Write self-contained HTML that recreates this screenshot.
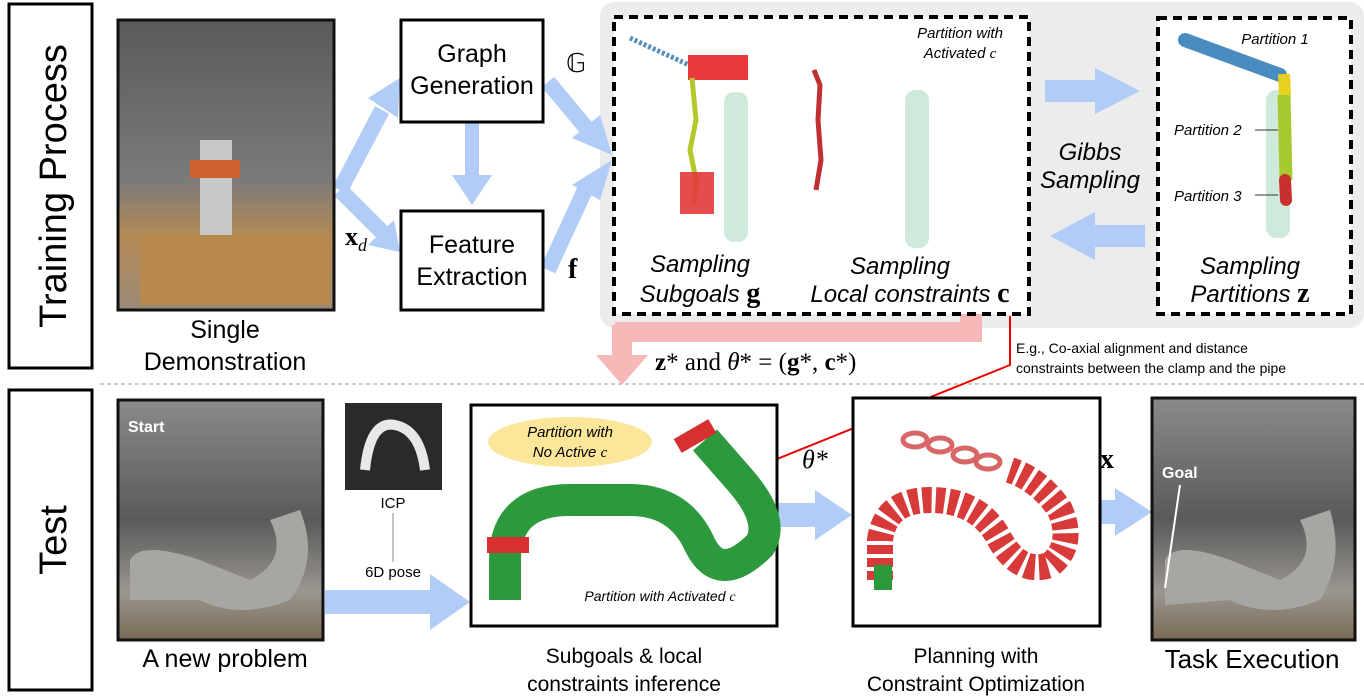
<!DOCTYPE html>
<html><head><meta charset="utf-8"><style>
body{margin:0;background:#fff;}
svg{display:block;font-family:"Liberation Sans",sans-serif;}
.ser{font-family:"Liberation Serif",serif;}
</style></head><body>
<svg width="1364" height="698" viewBox="0 0 1364 698" xmlns="http://www.w3.org/2000/svg">
<defs>
<linearGradient id="photo" x1="0" y1="0" x2="0" y2="1"><stop offset="0" stop-color="#5a5a5a"/><stop offset="0.55" stop-color="#7a7a7a"/><stop offset="0.75" stop-color="#b58a55"/><stop offset="1" stop-color="#9a8a78"/></linearGradient>
<linearGradient id="photo2" x1="0" y1="0" x2="0" y2="1"><stop offset="0" stop-color="#8a8a8a"/><stop offset="0.5" stop-color="#5a5a5a"/><stop offset="0.8" stop-color="#9a9690"/><stop offset="1" stop-color="#7a6a55"/></linearGradient>
</defs>
<rect x="9" y="4" width="83" height="364" fill="#fff" stroke="#000" stroke-width="3"/>
<text transform="translate(66,186) rotate(-90)" font-size="38" text-anchor="middle">Training Process</text>
<rect x="9" y="390" width="83" height="300" fill="#fff" stroke="#000" stroke-width="3"/>
<text transform="translate(66,540) rotate(-90)" font-size="38" text-anchor="middle">Test</text>
<line x1="100" y1="384" x2="1364" y2="384" stroke="#999" stroke-dasharray="4,3"/>
<rect x="600" y="2" width="764" height="326" rx="14" fill="#ececec"/>
<g fill="none" stroke="#b1ccf6" stroke-width="16">
<polyline points="340,190 382,110"/><polyline points="340,190 382,232"/>
<line x1="548" y1="82" x2="588" y2="130"/><line x1="548" y1="270" x2="585" y2="190"/>
</g>
<g fill="#b1ccf6" stroke="none">
<polygon points="368,98 400,78 398,118"/>
<polygon points="368,245 400,252 394,220"/>
<rect x="465" y="122" width="14" height="55"/><polygon points="452,175 492,175 472,205"/>
<polygon points="572,138 612,155 600,115"/>
<polygon points="572,185 612,160 600,200"/>
<rect x="1045" y="80" width="55" height="22"/><polygon points="1095,68 1140,91 1095,114"/>
<rect x="1090" y="225" width="55" height="22"/><polygon points="1095,212 1050,236 1095,260"/>
<rect x="325" y="590" width="110" height="24"/><polygon points="430,574 470,602 430,630"/>
<rect x="778" y="503" width="40" height="24"/><polygon points="815,490 852,515 815,540"/>
<rect x="1100" y="500" width="20" height="24"/><polygon points="1115,488 1152,512 1115,536"/>
</g>
<g fill="#f7b8b8"><rect x="960" y="312" width="22" height="18"/><rect x="615" y="322" width="367" height="20"/><rect x="612" y="325" width="20" height="35"/><polygon points="596,355 648,355 622,385"/></g>
<rect x="118" y="20" width="216" height="290" fill="url(#photo)" stroke="#111" stroke-width="3"/>
<rect x="200" y="140" width="32" height="150" fill="#c8c8c8"/>
<rect x="190" y="160" width="50" height="18" fill="#d06030"/>
<rect x="140" y="235" width="190" height="70" fill="#b8894f"/>
<text x="225" y="338" font-size="25" text-anchor="middle">Single</text>
<text x="225" y="370" font-size="25" text-anchor="middle">Demonstration</text>
<rect x="401" y="20" width="142" height="102" fill="#fff" stroke="#000" stroke-width="3"/>
<text x="472" y="62" font-size="25" text-anchor="middle">Graph</text>
<text x="472" y="94" font-size="25" text-anchor="middle">Generation</text>
<rect x="401" y="211" width="142" height="99" fill="#fff" stroke="#000" stroke-width="3"/>
<text x="472" y="253" font-size="25" text-anchor="middle">Feature</text>
<text x="472" y="285" font-size="25" text-anchor="middle">Extraction</text>
<text x="566" y="72" font-size="26" class="ser">𝔾</text>
<text x="568" y="278" font-size="28" class="ser" font-weight="bold">f</text>
<text x="345" y="245" font-size="26" class="ser" font-weight="bold">x<tspan font-size="18" font-weight="normal" font-style="italic" dy="6">d</tspan></text>
<rect x="614" y="17" width="415" height="297" fill="#fff" stroke="#000" stroke-width="4" stroke-dasharray="9,6"/>
<rect x="724" y="92" width="24" height="150" rx="10" fill="#cfeadb"/>
<rect x="905" y="90" width="24" height="158" rx="10" fill="#cfeadb"/>
<polyline points="630,38 700,70" stroke="#5a8fb8" stroke-width="5" stroke-dasharray="3,2" fill="none"/>
<rect x="688" y="55" width="60" height="25" fill="#e83a3a"/>
<polyline points="692,78 696,120 690,150 696,180 694,205" stroke="#b5c82a" stroke-width="5" fill="none"/>
<rect x="680" y="172" width="34" height="42" fill="#e03a3a" opacity="0.9"/>
<polyline points="814,70 820,85 818,120 821,160 816,190" stroke="#c03030" stroke-width="5" fill="none"/>
<text x="960" y="38" font-size="15" font-style="italic" text-anchor="middle">Partition with</text>
<text x="960" y="58" font-size="15" font-style="italic" text-anchor="middle">Activated <tspan class="ser">c</tspan></text>
<text x="700" y="272" font-size="24" font-style="italic" text-anchor="middle">Sampling</text>
<text x="700" y="302" font-size="24" font-style="italic" text-anchor="middle">Subgoals <tspan class="ser" font-weight="bold" font-style="normal" font-size="28">g</tspan></text>
<text x="900" y="274" font-size="24" font-style="italic" text-anchor="middle">Sampling</text>
<text x="910" y="302" font-size="24" font-style="italic" text-anchor="middle">Local constraints <tspan class="ser" font-weight="bold" font-style="normal" font-size="28">c</tspan></text>
<text x="1090" y="160" font-size="24" font-style="italic" text-anchor="middle">Gibbs</text>
<text x="1090" y="188" font-size="24" font-style="italic" text-anchor="middle">Sampling</text>
<rect x="1158" y="18" width="193" height="296" fill="#fff" stroke="#000" stroke-width="4" stroke-dasharray="9,6"/>
<rect x="1266" y="90" width="24" height="148" rx="10" fill="#cfeadb"/>
<polyline points="1185,40 1280,75" stroke="#4a8cc0" stroke-width="14" stroke-linecap="round" fill="none"/>
<polyline points="1284,74 1285,95" stroke="#e8d020" stroke-width="12" fill="none"/>
<polyline points="1284,95 1286,180" stroke="#a8c830" stroke-width="13" fill="none"/>
<polyline points="1285,180 1286,200" stroke="#c83030" stroke-width="12" stroke-linecap="round" fill="none"/>
<text x="1275" y="44" font-size="15" font-style="italic" text-anchor="middle">Partition 1</text>
<text x="1174" y="135" font-size="15" font-style="italic">Partition 2</text>
<text x="1174" y="201" font-size="15" font-style="italic">Partition 3</text>
<line x1="1255" y1="130" x2="1278" y2="130" stroke="#333"/><line x1="1255" y1="195" x2="1278" y2="195" stroke="#333"/>
<text x="1250" y="274" font-size="24" font-style="italic" text-anchor="middle">Sampling</text>
<text x="1250" y="302" font-size="24" font-style="italic" text-anchor="middle">Partitions <tspan class="ser" font-weight="bold" font-style="normal" font-size="28">z</tspan></text>
<text x="655" y="370" font-size="25" class="ser"><tspan font-weight="bold">z</tspan>* and <tspan font-style="italic">θ</tspan>* = (<tspan font-weight="bold">g</tspan>*, <tspan font-weight="bold">c</tspan>*)</text>
<text x="1016" y="353" font-size="14">E.g., Co-axial alignment and distance</text>
<text x="1016" y="373" font-size="14">constraints between the clamp and the pipe</text>
<polyline points="1010,316 1010,365 730,478" stroke="#e00" stroke-width="2" fill="none"/>
<rect x="118" y="400" width="205" height="240" fill="url(#photo2)" stroke="#111" stroke-width="3"/>
<path d="M130,600 L130,560 Q140,540 200,560 L250,580 Q290,560 270,520 L300,510 Q320,560 290,600 Q240,620 200,600 Z" fill="#a8a6a2"/>
<text x="128" y="432" font-size="16" font-weight="bold" fill="#fff">Start</text>
<text x="225" y="667" font-size="25" text-anchor="middle">A new problem</text>
<rect x="345" y="403" width="97" height="87" fill="#2a2a2a"/>
<path d="M365,470 Q370,420 395,425 Q420,430 425,470" stroke="#e8e8e8" stroke-width="10" fill="none"/>
<text x="393" y="508" font-size="15" text-anchor="middle">ICP</text>
<text x="393" y="577" font-size="15" text-anchor="middle">6D pose</text>
<line x1="393" y1="513" x2="393" y2="562" stroke="#888"/>
<rect x="471" y="405" width="306" height="221" fill="#fff" stroke="#000" stroke-width="3"/>
<path d="M505,600 L505,560 Q505,500 570,500 L630,500 Q680,500 700,545 Q720,585 760,545 Q775,520 740,480 L705,440" stroke="#2c9a3c" stroke-width="32" fill="none"/>
<rect x="487" y="537" width="42" height="16" fill="#d83030"/>
<rect x="675" y="428" width="40" height="16" fill="#d83030" transform="rotate(-30 695 436)"/>
<ellipse cx="570" cy="442" rx="82" ry="25" fill="#fbe69a"/>
<text x="570" y="437" font-size="15" font-style="italic" text-anchor="middle">Partition with</text>
<text x="570" y="457" font-size="15" font-style="italic" text-anchor="middle">No Active <tspan class="ser">c</tspan></text>
<text x="660" y="601" font-size="14" font-style="italic" text-anchor="middle">Partition with Activated <tspan class="ser">c</tspan></text>
<text x="624" y="663" font-size="21" text-anchor="middle">Subgoals &amp; local</text>
<text x="624" y="691" font-size="21" text-anchor="middle">constraints inference</text>
<text x="802" y="468" font-size="26" class="ser" font-style="italic">θ*</text>
<rect x="853" y="398" width="247" height="228" fill="#fff" stroke="#000" stroke-width="3"/>
<path d="M880,580 L880,540 Q885,500 930,500 Q980,500 1000,540 Q1020,575 1050,565 Q1075,545 1060,510 Q1040,480 1010,470" stroke="#d83a3a" stroke-width="26" fill="none" stroke-dasharray="9,4"/>
<rect x="874" y="565" width="18" height="25" fill="#2c9a3c"/>
<g fill="none" stroke="#d04040" stroke-width="5" opacity="0.8"><ellipse cx="915" cy="440" rx="12" ry="7"/><ellipse cx="940" cy="445" rx="12" ry="7"/><ellipse cx="965" cy="455" rx="12" ry="7"/><ellipse cx="988" cy="462" rx="12" ry="7"/></g>
<text x="976" y="663" font-size="21" text-anchor="middle">Planning with</text>
<text x="976" y="691" font-size="21" text-anchor="middle">Constraint Optimization</text>
<text x="1100" y="468" font-size="28" class="ser" font-weight="bold">x</text>
<rect x="1152" y="398" width="203" height="242" fill="url(#photo2)" stroke="#111" stroke-width="3"/>
<path d="M1165,605 L1165,560 Q1175,540 1230,560 L1280,580 Q1320,560 1300,520 L1330,510 Q1345,560 1320,600 Q1270,620 1230,600 Z" fill="#a8a6a2"/>
<text x="1162" y="478" font-size="16" font-weight="bold" fill="#fff">Goal</text>
<line x1="1180" y1="485" x2="1165" y2="588" stroke="#fff" stroke-width="2"/>
<text x="1252" y="668" font-size="26" text-anchor="middle">Task Execution</text>
</svg>
</body></html>
